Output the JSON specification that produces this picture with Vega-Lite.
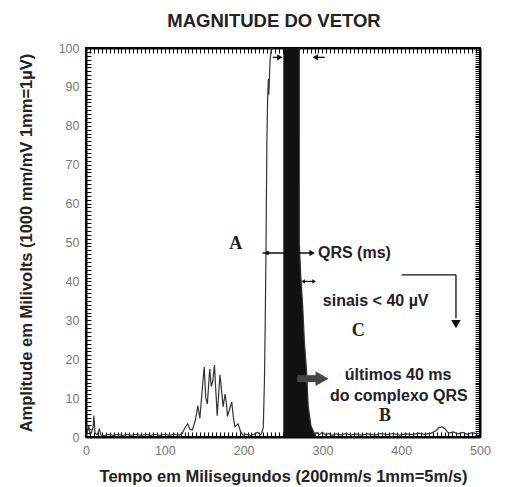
{
  "$schema": "https://vega.github.io/schema/vega-lite/v6.json",
  "width": 394,
  "height": 389,
  "autosize": {"type": "none"},
  "padding": {"left": 86, "top": 48, "right": 27, "bottom": 50},
  "background": "white",
  "config": {
    "view": {"stroke": "black", "strokeWidth": 2},
    "font": "Liberation Sans"
  },
  "title": {
    "text": "MAGNITUDE DO VETOR",
    "fontSize": 18.5,
    "font": "Liberation Sans",
    "fontWeight": "bold",
    "color": "#222",
    "anchor": "middle",
    "frame": "group",
    "dx": -9,
    "offset": 12
  },
  "datasets": {
    "signal": [
      {"x": 0, "y": 0.5}, {"x": 2, "y": 1.5}, {"x": 3.5, "y": 2.8}, {"x": 5, "y": 0.8}, {"x": 7, "y": 1.2},
      {"x": 9, "y": 2.5}, {"x": 10, "y": 5.5}, {"x": 11.5, "y": 1.0}, {"x": 14, "y": 0.6}, {"x": 17, "y": 2.0},
      {"x": 19, "y": 0.5}, {"x": 23, "y": 0.3}, {"x": 28, "y": 0.7}, {"x": 34, "y": 0.4}, {"x": 40, "y": 0.7},
      {"x": 46, "y": 0.4}, {"x": 52, "y": 0.7}, {"x": 58, "y": 0.4}, {"x": 64, "y": 0.7}, {"x": 70, "y": 0.4},
      {"x": 76, "y": 0.7}, {"x": 82, "y": 0.4}, {"x": 88, "y": 0.7}, {"x": 94, "y": 0.4}, {"x": 100, "y": 0.7},
      {"x": 106, "y": 0.4}, {"x": 112, "y": 0.7}, {"x": 118, "y": 0.5}, {"x": 122, "y": 0.9}, {"x": 126, "y": 2.5},
      {"x": 129, "y": 3.4}, {"x": 132, "y": 2.0}, {"x": 135, "y": 1.8}, {"x": 139, "y": 4.5}, {"x": 142, "y": 8.0},
      {"x": 144.5, "y": 4.8}, {"x": 147, "y": 11.0}, {"x": 150, "y": 18.0}, {"x": 152, "y": 10.0}, {"x": 154, "y": 8.5},
      {"x": 157, "y": 17.5}, {"x": 159, "y": 13.0}, {"x": 161, "y": 14.5}, {"x": 163, "y": 18.5}, {"x": 165, "y": 11.0},
      {"x": 166.5, "y": 5.5}, {"x": 168, "y": 10.0}, {"x": 170, "y": 16.0}, {"x": 172, "y": 12.0}, {"x": 174, "y": 7.8},
      {"x": 176.5, "y": 11.0}, {"x": 178, "y": 9.0}, {"x": 179.5, "y": 5.3}, {"x": 182, "y": 7.0}, {"x": 185, "y": 9.0},
      {"x": 187, "y": 5.0}, {"x": 189, "y": 2.6}, {"x": 191, "y": 3.0}, {"x": 193, "y": 3.4}, {"x": 196, "y": 1.5},
      {"x": 199, "y": 0.5}, {"x": 204, "y": 0.7}, {"x": 209, "y": 0.4}, {"x": 214, "y": 0.8}, {"x": 218, "y": 1.2},
      {"x": 221, "y": 0.5}, {"x": 223, "y": 1.0}, {"x": 225, "y": 2.5}, {"x": 226.5, "y": 15.0}, {"x": 227.5, "y": 30.0},
      {"x": 228.5, "y": 50.0}, {"x": 229.5, "y": 75.0}, {"x": 230.5, "y": 87.0}, {"x": 231.5, "y": 92.0}, {"x": 232, "y": 88.0},
      {"x": 233.5, "y": 96.5}, {"x": 234.5, "y": 98.6}, {"x": 236, "y": 101.0}, {"x": 240, "y": 120.0}, {"x": 260, "y": 130.0},
      {"x": 270.6, "y": 110.0}, {"x": 270.7, "y": 50.0}, {"x": 272.4, "y": 42.0}, {"x": 275, "y": 33.6}, {"x": 277, "y": 25.0},
      {"x": 280, "y": 16.5}, {"x": 282, "y": 7.9}, {"x": 285.5, "y": 2.8}, {"x": 290.6, "y": 0.6}, {"x": 293, "y": 1.2},
      {"x": 296, "y": 0.6}, {"x": 300, "y": 1.2}, {"x": 304, "y": 0.5}, {"x": 308, "y": 0.9}, {"x": 312, "y": 0.4},
      {"x": 318, "y": 0.8}, {"x": 324, "y": 0.5}, {"x": 330, "y": 0.9}, {"x": 336, "y": 0.5}, {"x": 342, "y": 0.8},
      {"x": 350, "y": 0.5}, {"x": 358, "y": 0.8}, {"x": 366, "y": 0.5}, {"x": 374, "y": 0.9}, {"x": 382, "y": 0.6},
      {"x": 390, "y": 0.9}, {"x": 398, "y": 0.5}, {"x": 406, "y": 0.8}, {"x": 414, "y": 0.6}, {"x": 422, "y": 1.0},
      {"x": 430, "y": 0.7}, {"x": 438, "y": 1.0}, {"x": 444, "y": 1.6}, {"x": 448, "y": 2.4}, {"x": 452, "y": 2.6},
      {"x": 456, "y": 2.0}, {"x": 460, "y": 1.0}, {"x": 466, "y": 1.3}, {"x": 472, "y": 0.8}, {"x": 478, "y": 1.2},
      {"x": 484, "y": 0.7}, {"x": 490, "y": 1.1}, {"x": 496, "y": 0.8}, {"x": 500, "y": 1.0}
    ],
    "fill": [
      {"x": 250.4, "y": 100}, {"x": 270.6, "y": 100}, {"x": 270.7, "y": 50}, {"x": 272.4, "y": 42},
      {"x": 275, "y": 33.6}, {"x": 277, "y": 25}, {"x": 280, "y": 16.5}, {"x": 282, "y": 7.9},
      {"x": 285.5, "y": 2.8}, {"x": 290.6, "y": 0.6}, {"x": 293, "y": 0.2}
    ],
    "segs": [
      {"x": 224, "y": 47.3, "x2": 286, "y2": 47.3},
      {"x": 237, "y": 97.6, "x2": 246, "y2": 97.6},
      {"x": 291, "y": 97.6, "x2": 303, "y2": 97.6},
      {"x": 275, "y": 40, "x2": 290, "y2": 40},
      {"x": 400.6, "y": 41.7, "x2": 469.5, "y2": 41.7},
      {"x": 469.5, "y": 41.7, "x2": 469.5, "y2": 30.5}
    ],
    "grayshaft": [{"x": 268, "y": 15, "x2": 292, "y2": 15}],
    "headsRight": [{"x": 287, "y": 47.3}, {"x": 246, "y": 97.6}],
    "headsLeft": [{"x": 291, "y": 97.6}],
    "smallRight": [{"x": 289.5, "y": 40}],
    "smallLeft": [{"x": 275.5, "y": 40}],
    "headDown": [{"x": 469.5, "y": 29}],
    "grayHead": [{"x": 299.5, "y": 15}],
    "dots": [{"x": 230.5, "y": 47.3}],
    "sansLeft": [
      {"x": 294.4, "y": 47.3, "t": "QRS (ms)"},
      {"x": 300.5, "y": 35, "t": "sinais < 40 µV"}
    ],
    "sansCenter": [
      {"x": 396, "y": 15.9, "t": "últimos 40 ms"},
      {"x": 397, "y": 10.6, "t": "do complexo QRS"}
    ],
    "serif": [
      {"x": 190, "y": 49.7, "t": "A"},
      {"x": 345.5, "y": 27.2, "t": "C"},
      {"x": 379.4, "y": 5.4, "t": "B"}
    ]
  },
  "layer": [
    {
      "data": {"name": "fill"},
      "mark": {"type": "area", "color": "#111", "clip": true},
      "encoding": {
        "x": {
          "field": "x", "type": "quantitative",
          "scale": {"domain": [0, 500], "nice": false},
          "axis": {
            "orient": "bottom", "tickCount": 100, "tickSize": -5, "tickColor": "black", "tickWidth": 1,
            "domain": true, "domainColor": "black", "domainWidth": 2, "grid": false, "format": "d",
            "labelExpr": "datum.value % 100 == 0 ? datum.label : ''",
            "labelOverlap": false, "labelFlush": false,
            "labelColor": "#777", "labelFontSize": 12.5, "labelPadding": 12,
            "title": "Tempo em Milisegundos (200mm/s 1mm=5m/s)",
            "titleFontSize": 16.5, "titleFontWeight": "bold", "titleColor": "#222", "titlePadding": 12
          }
        },
        "y": {
          "field": "y", "type": "quantitative",
          "scale": {"domain": [0, 100], "nice": false},
          "axis": {
            "orient": "left", "tickCount": 200, "tickSize": -5, "tickColor": "black", "tickWidth": 1,
            "domain": true, "domainColor": "black", "domainWidth": 2, "grid": false, "format": "d",
            "labelExpr": "datum.value % 10 == 0 ? datum.label : ''",
            "labelOverlap": false, "labelFlush": false,
            "labelColor": "#777", "labelFontSize": 12.5, "labelPadding": 12,
            "title": "Amplitude em Milivolts (1000 mm/mV 1mm=1µV)",
            "titleFontSize": 16.5, "titleFontWeight": "bold", "titleColor": "#222", "titlePadding": 24
          }
        }
      }
    },
    {
      "data": {"name": "signal"},
      "mark": {"type": "line", "color": "#333", "strokeWidth": 1.2, "clip": true},
      "encoding": {
        "x": {
          "field": "x", "type": "quantitative",
          "scale": {"domain": [0, 500], "nice": false},
          "axis": {"orient": "top", "tickCount": 100, "tickSize": -5, "tickColor": "black", "tickWidth": 1, "domain": true, "domainColor": "black", "domainWidth": 2, "grid": false, "labels": false, "title": null}
        },
        "y": {
          "field": "y", "type": "quantitative",
          "scale": {"domain": [0, 100], "nice": false},
          "axis": {"orient": "right", "tickCount": 200, "tickSize": -5, "tickColor": "black", "tickWidth": 1, "domain": true, "domainColor": "black", "domainWidth": 2, "grid": false, "labels": false, "title": null}
        }
      }
    },
    {
      "data": {"name": "segs"},
      "mark": {"type": "rule", "color": "#111", "strokeWidth": 1.3},
      "encoding": {
        "x": {"field": "x", "type": "quantitative", "axis": null},
        "y": {"field": "y", "type": "quantitative", "axis": null},
        "x2": {"field": "x2"},
        "y2": {"field": "y2"}
      }
    },
    {
      "data": {"name": "grayshaft"},
      "mark": {"type": "rule", "color": "#444", "strokeWidth": 7},
      "encoding": {
        "x": {"field": "x", "type": "quantitative", "axis": null},
        "y": {"field": "y", "type": "quantitative", "axis": null},
        "x2": {"field": "x2"},
        "y2": {"field": "y2"}
      }
    },
    {
      "data": {"name": "headsRight"},
      "mark": {"type": "point", "shape": "triangle-right", "filled": true, "color": "#111", "size": 40, "opacity": 1},
      "encoding": {
        "x": {"field": "x", "type": "quantitative", "axis": null},
        "y": {"field": "y", "type": "quantitative", "axis": null}
      }
    },
    {
      "data": {"name": "headsLeft"},
      "mark": {"type": "point", "shape": "triangle-left", "filled": true, "color": "#111", "size": 40, "opacity": 1},
      "encoding": {
        "x": {"field": "x", "type": "quantitative", "axis": null},
        "y": {"field": "y", "type": "quantitative", "axis": null}
      }
    },
    {
      "data": {"name": "smallRight"},
      "mark": {"type": "point", "shape": "triangle-right", "filled": true, "color": "#111", "size": 18, "opacity": 1},
      "encoding": {
        "x": {"field": "x", "type": "quantitative", "axis": null},
        "y": {"field": "y", "type": "quantitative", "axis": null}
      }
    },
    {
      "data": {"name": "smallLeft"},
      "mark": {"type": "point", "shape": "triangle-left", "filled": true, "color": "#111", "size": 18, "opacity": 1},
      "encoding": {
        "x": {"field": "x", "type": "quantitative", "axis": null},
        "y": {"field": "y", "type": "quantitative", "axis": null}
      }
    },
    {
      "data": {"name": "headDown"},
      "mark": {"type": "point", "shape": "triangle-down", "filled": true, "color": "#111", "size": 90, "opacity": 1},
      "encoding": {
        "x": {"field": "x", "type": "quantitative", "axis": null},
        "y": {"field": "y", "type": "quantitative", "axis": null}
      }
    },
    {
      "data": {"name": "grayHead"},
      "mark": {"type": "point", "shape": "triangle-right", "filled": true, "color": "#444", "size": 220, "opacity": 1},
      "encoding": {
        "x": {"field": "x", "type": "quantitative", "axis": null},
        "y": {"field": "y", "type": "quantitative", "axis": null}
      }
    },
    {
      "data": {"name": "dots"},
      "mark": {"type": "point", "shape": "circle", "filled": true, "color": "#111", "size": 18, "opacity": 1},
      "encoding": {
        "x": {"field": "x", "type": "quantitative", "axis": null},
        "y": {"field": "y", "type": "quantitative", "axis": null}
      }
    },
    {
      "data": {"name": "sansLeft"},
      "mark": {"type": "text", "font": "Liberation Sans", "fontWeight": "bold", "fontSize": 16, "align": "left", "baseline": "middle", "color": "#222"},
      "encoding": {
        "x": {"field": "x", "type": "quantitative", "axis": null},
        "y": {"field": "y", "type": "quantitative", "axis": null},
        "text": {"field": "t"}
      }
    },
    {
      "data": {"name": "sansCenter"},
      "mark": {"type": "text", "font": "Liberation Sans", "fontWeight": "bold", "fontSize": 16, "align": "center", "baseline": "middle", "color": "#222"},
      "encoding": {
        "x": {"field": "x", "type": "quantitative", "axis": null},
        "y": {"field": "y", "type": "quantitative", "axis": null},
        "text": {"field": "t"}
      }
    },
    {
      "data": {"name": "serif"},
      "mark": {"type": "text", "font": "Liberation Serif", "fontWeight": "bold", "fontSize": 18, "align": "center", "baseline": "middle", "color": "#222"},
      "encoding": {
        "x": {"field": "x", "type": "quantitative", "axis": null},
        "y": {"field": "y", "type": "quantitative", "axis": null},
        "text": {"field": "t"}
      }
    }
  ],
  "resolve": {"axis": {"x": "independent", "y": "independent"}}
}
